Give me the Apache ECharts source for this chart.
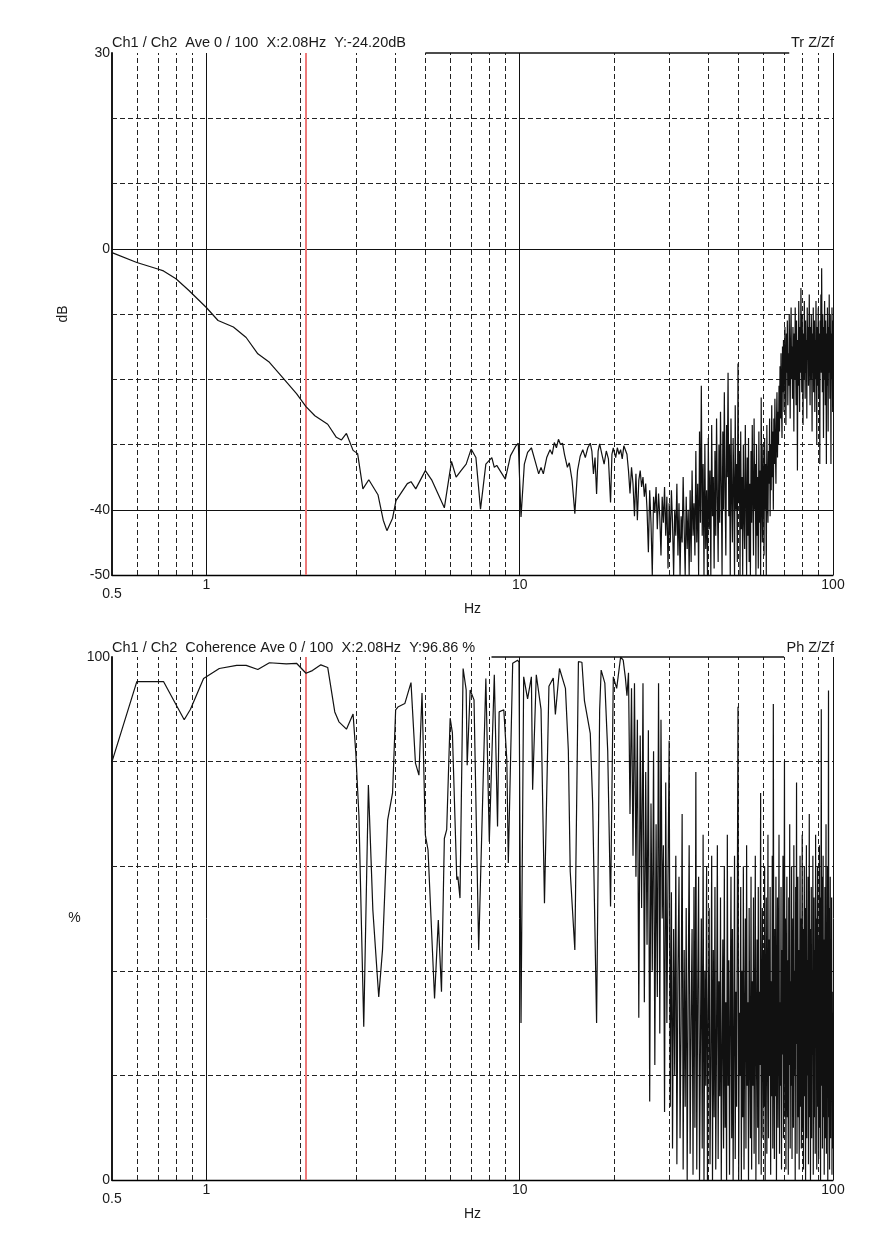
<!DOCTYPE html>
<html>
<head>
<meta charset="utf-8">
<script src="https://cdn.jsdelivr.net/npm/echarts@6/dist/echarts.min.js"></script>
<style>
html,body{margin:0;padding:0;background:#fff;}
#chart{width:885px;height:1236px;}
</style>
</head>
<body>
<div id="chart"></div>
<script>
// ---------- texts ----------
const titleTop = 'Ch1 / Ch2  Ave 0 / 100  X:2.08Hz  Y:-24.20dB';
const tagTop = 'Tr Z/Zf';
const titleBottom = 'Ch1 / Ch2  Coherence Ave 0 / 100  X:2.08Hz  Y:96.86 %';
const tagBottom = 'Ph Z/Zf';
const xName = 'Hz';
const yNameTop = 'dB';
const yNameBottom = '%';

// ---------- ticks / grid ----------
const minorFreqs = [0.6, 0.7, 0.8, 0.9, 2, 3, 4, 5, 6, 7, 8, 9, 20, 30, 40, 50, 60, 70, 80, 90];
const majorFreqs = [1, 10, 100];
const cursorFreq = 2.08;
const topLabels = [30, 0, -40, -50];
const topDashed = [20, 10, -10, -20, -30];
const topSolid = [0, -40];
const botLabels = [100, 0];
const botDashed = [20, 40, 60, 80];

// ---------- transfer function (dB) ----------
const trLow = [
  [0.5,-0.6],[0.6,-2.1],[0.7,-3.1],[0.73,-3.4],[0.8,-4.6],[0.88,-6.4],[1.0,-9.0],[1.09,-11.0],
  [1.22,-12.0],[1.34,-13.6],[1.46,-16.1],[1.59,-17.4],[1.75,-19.7],[1.94,-22.2],[2.08,-24.2],
  [2.22,-25.6],[2.44,-26.9],[2.6,-28.9],[2.7,-29.3],[2.8,-28.3],[2.94,-30.9],[3.04,-31.4],
  [3.16,-36.8],[3.3,-35.4],[3.53,-37.7],[3.67,-41.6],[3.77,-43.2],[3.93,-41.3],[4.03,-38.6],
  [4.38,-36.0],[4.5,-35.7],[4.66,-36.8],[5.0,-34.0],[5.25,-35.5],[5.75,-39.7],[6.06,-32.6],
  [6.27,-35.0],[6.5,-34.0],[6.75,-33.0],[7.0,-30.7],[7.25,-32.0],[7.5,-39.9],[7.8,-33.0],
  [8.15,-32.0],[8.3,-33.5],[8.45,-33.2],[9.0,-35.3],[9.35,-31.7],[9.7,-30.3],[9.9,-29.8],
  [10.1,-41.1],[10.35,-33.0],[10.6,-31.2],[10.9,-30.5],[11.2,-32.5],[11.5,-34.5],[11.7,-33.5],
  [11.9,-34.5],[12.2,-32.0],[12.5,-30.8],[12.7,-31.5],[12.9,-29.7],[13.1,-30.5],[13.3,-29.2],
  [13.5,-30.0],[13.7,-29.8],[13.9,-31.5],[14.2,-33.5],[14.4,-32.8],[14.7,-35.5],[15.0,-40.6],
  [15.3,-34.0],[15.6,-31.8],[15.9,-30.8],[16.2,-32.0],[16.5,-30.5],[16.8,-29.8],[17.0,-31.0],
  [17.2,-34.5],[17.4,-32.0],[17.6,-37.6],[17.8,-31.0],[18.0,-29.9],[18.3,-31.5],[18.6,-33.0],
  [18.9,-31.0],[19.2,-32.2],[19.5,-38.9],[19.7,-31.5],[19.9,-30.5]
];
// dense part: FFT bins from 20 Hz, 0.25 Hz apart
const trDenseStart = 20;
const trDenseStep = 0.25;
const trDense = [
  -31,-32,-30.5,-31.5,  -30.8,-32.2,-30.2,-29.9,  -31.5,-34,-37.5,-33.5,  -36,-41,-34.5,-41.6,
  -35.5,-34,-36.5,-35,  -38,-36,-40,-46.5,  -37,-42,-50,-38,  -40.5,-36.5,-43,-37.5,
  -41,-47,-38,-42,  -36.5,-44,-38,-49,  -39,-45,-37,-42,  -50,-40,-44,-36,
  -47,-39,-50,-41,  -45,-35,-43,-50,  -38,-46,-40,-50,  -37,-48,-34,-44,
  -39,-47,-31,-45,  -36,-50,-28,-42,  -21,-44,-33,-50,  -30,-46,-37,-50,
  -29,-43,-34,-50,  -27,-41,-35,-49,  -31,-44,-26,-38,  -48,-30,-42,-25,
  -36,-50,-28,-40,  -22,-37,-47,-27,  -35,-19,-41,-30,  -50,-26,-38,-45,
  -29,-36,-50,-24,  -40,-33,-48,-17.6,  -39,-31,-50,-28,  -43,-35,-50,-30,
  -41,-46,-27,-37,  -50,-32,-44,-29,  -48,-36,-50,-31,  -42,-27,-38,-47,
  -26,-40,-33,-50,  -30,-44,-35,-49,  -28,-42,-34,-50,  -22.8,-38,-45,-30,
  -36,-47,-29,-40,  -33,-50,-27,-38,  -42,-31,-36,-26,  -41,-30,-37,-24,
  -35,-28,-40,-26,  -33,-23,-31,-36,  -27,-22,-32,-25,  -30,-21,-28,-18,
  -26,-16,-24,-29,  -15,-22,-14,-25,  -18,-12,-20,-27,  -13,-19,-11,-24,
  -16,-21,-10,-18,  -26,-14,-9,-20,  -15,-23,-12,-17,  -28,-13,-20,-9,
  -17,-24,-11,-18,  -34,-14,-21,-8,  -16,-25,-12,-19,  -6,-15,-22,-10,
  -18,-27,-13,-20,  -8,-16,-23,-11,  -19,-14,-26,-9,  -17,-12,-21,-15,
  -7,-18,-24,-12,  -20,-10,-16,-28,  -13,-19,-9,-22,  -15,-11,-25,-14,
  -20,-8,-17,-30,  -12,-21,-15,-9,  -23,-13,-18,-33,  -11,-16,-7,-19,
  -3,-14,-22,-10,  -17,-29,-12,-20,  -8,-15,-24,-11,  -18,-33,-13,-21,
  -9,-16,-28,-12,  -19,-7,-15,-23,  -10,-17,-33,-13,  -20,-9,-16,-25,
  -11
];

// ---------- coherence (%) ----------
const cohLow = [
  [0.5,80],[0.6,95.3],[0.73,95.3],[0.85,88],[0.89,90],[0.98,95.9],[1.1,97.8],[1.25,98.4],
  [1.34,98.4],[1.46,97.6],[1.59,98.9],[1.8,98.7],[1.94,98.8],[2.08,96.9],[2.18,97.4],[2.32,98.5],
  [2.44,98],[2.57,89.5],[2.65,87.6],[2.8,86.2],[2.94,89.1],[3.0,81.6],[3.07,69.5],[3.18,29.3],
  [3.29,75.5],[3.4,51.6],[3.55,35],[3.65,44],[3.79,68.8],[3.93,74],[4.02,89.9],[4.1,90.5],
  [4.3,91.1],[4.5,95.1],[4.65,79.7],[4.77,77.4],[4.88,93.1],[5.0,66],[5.1,63.1],[5.35,34.7],
  [5.5,49.7],[5.63,36],[5.75,65.3],[5.85,67],[6.0,88.3],[6.1,85.5],[6.3,57.4],[6.35,58],
  [6.45,53.9],[6.6,97.8],[6.75,93.7],[6.8,79.3],[6.95,93.7],[7.15,91.8],[7.4,44],[7.8,95.9],
  [8.0,64.7],[8.3,96.6],[8.5,67.6],[8.6,89.5],[8.9,89.9],[9.1,80.3],[9.2,60.6],[9.5,98.8],
  [9.85,99.4],[9.95,99],[10.1,30],[10.2,63],[10.3,96.2],[10.6,92],[10.9,96.2],[11.0,74.6],
  [11.3,96.6],[11.7,90],[12.0,52.9],[12.4,94.4],[12.8,96],[13.0,89],[13.4,97.8],[14.0,94],
  [14.3,82.2],[14.5,59],[15.0,44],[15.4,99.1],[15.8,99],[16.1,91.6],[16.8,85.4],[17.1,72],
  [17.6,30],[18.0,89.8],[18.2,97.5],[18.7,95],[19.1,82],[19.5,52.3],[19.9,96.2],[20.4,94],
  [21.0,100],[21.4,99.4],[21.75,96]
];
const cohDenseStart = 22;
const cohDenseStep = 0.25;
const cohDense = [
  92.6,97,70,94,  62,95,58,88,  31,85,52,95,  34,78,45,86,  15,72,40,82,  22,68,35,95,
  28,88,50,64,  13,76,30,58,
  84,14,55,6,  48,20,62,3,  40,58,8,30,  70,2,44,14,  52,0,36,64,  5,30,48,1,
  56,10,78,2,  36,58,0,26,  50,6,66,0,  40,18,60,0,  32,52,3,22,  62,0,44,12,
  56,2,28,64,  4,38,16,54,  0,24,46,6,  60,10,34,0,  66,18,42,1,  30,58,8,48,
  0,26,62,4,  36,14,52,90.5,  0,32,20,56,  0,40,12,60,  2,30,50,6,  64,18,34,0,
  52,24,8,58,  2,38,18,54,  5,32,62,0,  28,46,10,56,  3,36,22,74,  1,30,52,8,
  44,14,60,0,  34,54,5,28,  66,8,46,20,  56,1,38,16,  62,6,91,24,  4,48,16,58,
  0,32,54,10,  40,66,5,34,  18,56,2,44,  24,62,8,36,  80,12,50,2,  30,58,12,42,
  1,54,22,68,  6,38,18,60,  4,32,50,10,  64,20,40,0,  56,26,76,5,  36,58,12,44,
  2,30,62,14,  50,6,38,66,  10,48,2,34,  60,16,52,0,  28,64,8,42,  20,58,3,36,
  70,12,48,0,  32,56,8,40,  24,62,1,36,  54,12,44,5,  66,26,50,2,  38,60,14,46,
  4,32,64,10,  54,0,42,90,  18,58,6,36,  62,12,46,1,  30,56,8,40,  68,5,44,22,
  60,0,34,93.6,  12,52,2,38,  58,8,42,20,  54,1,36,6,
  32
];

// ---------- build series data ----------
function bins(start, step, vals) { return vals.map((v, i) => [start + i * step, v]); }
const trData = trLow.concat(bins(trDenseStart, trDenseStep, trDense));
const cohData = cohLow.concat(bins(cohDenseStart, cohDenseStep, cohDense));

const FONT = '"Liberation Sans", Arial, sans-serif';
const INK = '#1a1a1a';
const dashStyle = { color: '#222', width: 1, type: [5, 3] };
const solidStyle = { color: '#111', width: 1, type: 'solid' };
const borderStyle = { color: '#111', width: 1.6, type: 'solid' };
const cursorStyle = { color: '#ee7a7a', width: 2, type: 'solid' };

function gridLines(dashedLevels, solidLevels, yTop, borderFrom, borderTo) {
  const d = [];
  minorFreqs.forEach(f => d.push({ xAxis: f, lineStyle: dashStyle }));
  majorFreqs.forEach(f => d.push({ xAxis: f, lineStyle: solidStyle }));
  dashedLevels.forEach(y => d.push({ yAxis: y, lineStyle: dashStyle }));
  solidLevels.forEach(y => d.push({ yAxis: y, lineStyle: solidStyle }));
  d.push([{ coord: [borderFrom, yTop], lineStyle: borderStyle }, { coord: [borderTo, yTop] }]);
  d.push({ xAxis: cursorFreq, lineStyle: cursorStyle });
  return d;
}

function xAxisDef(gi) {
  return {
    gridIndex: gi, type: 'log', logBase: 10, min: 0.5, max: 100,
    axisLine: { show: true, onZero: false, lineStyle: { color: '#000', width: 1.3 } },
    axisTick: { show: false }, splitLine: { show: false }, minorTick: { show: false },
    axisLabel: {
      margin: 3, color: INK, fontSize: 14, fontFamily: FONT, showMinLabel: true, showMaxLabel: true,
      formatter: v => (v < 0.75 ? '{low|0.5}' : String(Math.round(v))),
      rich: { low: { padding: [9, 0, 0, 0], fontSize: 14, fontFamily: FONT, color: INK } }
    },
    name: xName, nameLocation: 'middle', nameGap: 19,
    nameTextStyle: { color: INK, fontSize: 14, fontFamily: FONT }
  };
}

function yAxisDef(gi, min, max, interval, labels, name, rotate, gap) {
  return {
    gridIndex: gi, type: 'value', min: min, max: max, interval: interval,
    axisLine: { show: true, onZero: false, lineStyle: { color: '#000', width: 1.8 } },
    axisTick: { show: false }, splitLine: { show: false },
    axisLabel: {
      margin: 2, color: INK, fontSize: 14, fontFamily: FONT, showMinLabel: true, showMaxLabel: true,
      formatter: v => (labels.indexOf(v) >= 0 ? String(v) : '')
    },
    name: name, nameLocation: 'middle', nameRotate: rotate, nameGap: gap,
    nameTextStyle: { color: INK, fontSize: 14, fontFamily: FONT }
  };
}

const titleStyle = { fontSize: 14.5, fontWeight: 'normal', color: INK, fontFamily: FONT };
const chart = echarts.init(document.getElementById('chart'), null, { renderer: 'canvas' });
chart.setOption({
  animation: false,
  backgroundColor: '#fff',
  title: [
    { text: titleTop, left: 112, top: 35, padding: 0, textStyle: titleStyle },
    { text: tagTop, right: 51, top: 35, padding: 0, textStyle: titleStyle },
    { text: titleBottom, left: 112, top: 640, padding: 0, textStyle: titleStyle },
    { text: tagBottom, right: 51, top: 640, padding: 0, textStyle: titleStyle }
  ],
  grid: [
    { left: 112, top: 53, width: 721, height: 522 },
    { left: 112, top: 657, width: 721, height: 523 }
  ],
  xAxis: [xAxisDef(0), xAxisDef(1)],
  yAxis: [
    yAxisDef(0, -50, 30, 10, topLabels, yNameTop, 90, 42),
    yAxisDef(1, 0, 100, 20, botLabels, yNameBottom, 0, 22)
  ],
  series: [
    {
      type: 'line', xAxisIndex: 0, yAxisIndex: 0, data: trData, showSymbol: false, clip: true,
      lineStyle: { color: '#111', width: 1.2 }, z: 3,
      markLine: { silent: true, z: 1, symbol: ['none', 'none'], label: { show: false }, animation: false,
        data: gridLines(topDashed, topSolid, 30, 5, 72.5) }
    },
    {
      type: 'line', xAxisIndex: 1, yAxisIndex: 1, data: cohData, showSymbol: false, clip: true,
      lineStyle: { color: '#111', width: 1.2 }, z: 3,
      markLine: { silent: true, z: 1, symbol: ['none', 'none'], label: { show: false }, animation: false,
        data: gridLines(botDashed, [], 100, 8.13, 69.8) }
    }
  ]
});
</script>
</body>
</html>
